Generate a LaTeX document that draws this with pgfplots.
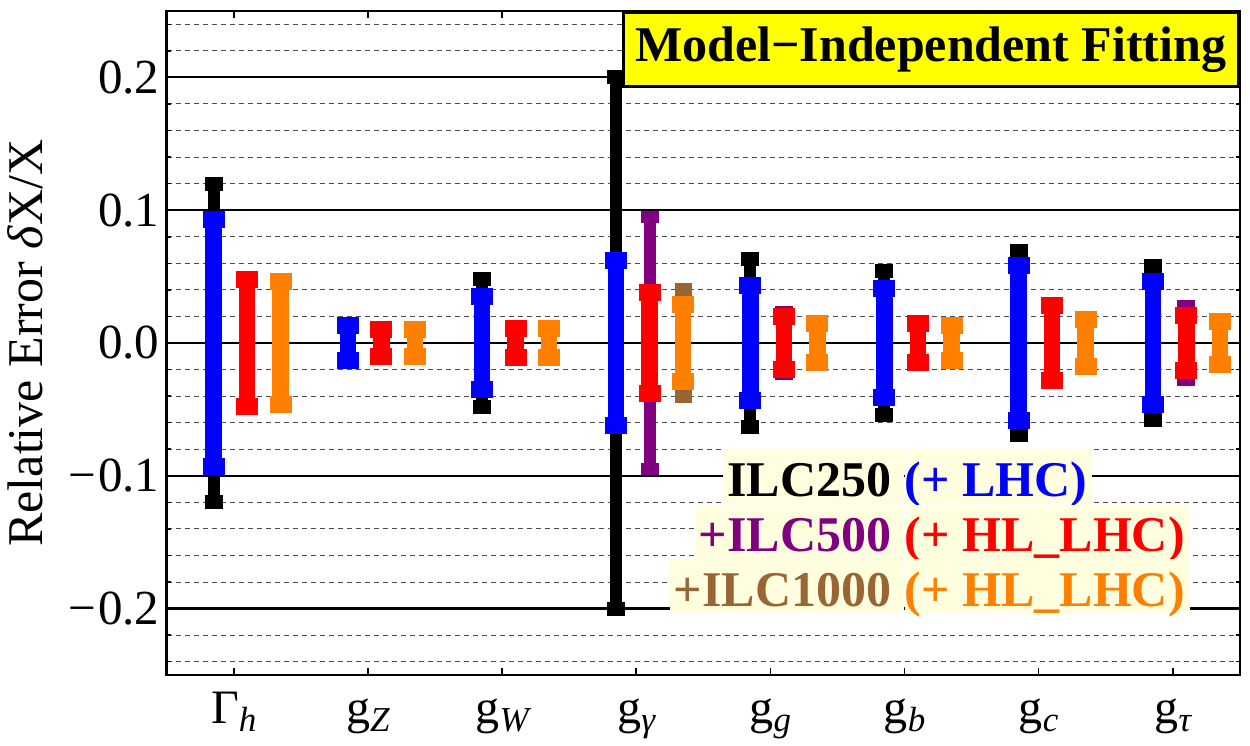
\documentclass[border=0pt]{standalone}
\usepackage{pgfplots}
\pgfplotsset{compat=1.18}
\usepackage{pgfplotstable}
\usepackage{fontspec}
\setmainfont{Liberation Serif}
\definecolor{mblue}{RGB}{0,0,255}
\definecolor{mred}{RGB}{255,0,0}
\definecolor{morange}{RGB}{255,128,0}
\definecolor{mpurple}{RGB}{128,0,128}
\definecolor{mbrown}{RGB}{153,102,51}
\definecolor{lyellow}{RGB}{255,255,224}
\definecolor{tyellow}{RGB}{255,255,0}
\newcommand{\sub}[1]{\raisebox{-8pt}{\fontsize{35}{35}\selectfont\itshape #1}}

\pgfplotstableread{
cat  xa    xb    xc    z  blk   blu   pur   red   brn   org
0   -0.15  0.10  0.35  0  0.120 0.093 0.048 0.048 0.046 0.046
1    0.85  1.10  1.35  0  0.013 0.013 0.010 0.010 0.010 0.010
2    1.85  2.10  2.35  0  0.048 0.035 0.011 0.011 0.011 0.011
3    2.85  3.10  3.35  0  0.200 0.062 0.095 0.038 0.040 0.029
4    3.85  4.10  4.35  0  0.063 0.043 0.023 0.020 0.015 0.015
5    4.85  5.10  5.35  0  0.054 0.041 0.015 0.015 0.013 0.013
6    5.85  6.10  6.35  0  0.069 0.058 0.028 0.028 0.018 0.018
7    6.85  7.10  7.35  0  0.058 0.046 0.028 0.021 0.016 0.016
}\errdata

\pgfplotsset{
  errbar/.style n args={4}{draw=none, mark=none, forget plot,
    error bars/.cd, y dir=both, y explicit,
    error bar style={draw=#1, line width=#2},
    error mark=|,
    error mark options={draw=#1, line width=#4, mark size=#3}},
}
\tikzset{
  lrow/.style={fill=lyellow, inner sep=0pt, text height=47pt, text depth=8pt,
    font=\fontsize{50}{55}\bfseries\selectfont},
}

\begin{document}
\begin{tikzpicture}
\begin{axis}[
  at={(0pt,0pt)}, anchor=south west,
  scale only axis, width=1073.3pt, height=664pt,
  xmin=-0.5, xmax=7.5, ymin=-0.25, ymax=0.25,
  xtick={0,1,2,3,4,5,6,7},
  xticklabels={{Γ\sub{h}},{g\sub{Z}},{g\sub{W}},{g\sub{γ}},{g\sub{g}},{g\sub{b}},{g\sub{c}},{g\sub{τ}}},
  ytick={-0.2,-0.1,0,0.1,0.2},
  yticklabels={−\kern2pt0.2,−\kern2pt0.1,0.0,0.1,0.2},
  minor ytick={-0.24,-0.22,-0.18,-0.16,-0.14,-0.12,-0.08,-0.06,-0.04,-0.02,0.02,0.04,0.06,0.08,0.12,0.14,0.16,0.18,0.22,0.24},
  ymajorgrids, yminorgrids,
  major grid style={black, line width=2.2pt},
  minor grid style={black!70, line width=1pt, dash pattern=on 5pt off 4pt},
  tick align=inside,
  major tick length=7pt, minor tick length=4pt,
  every tick/.style={black, line width=1.5pt},
  axis line style={line width=2.5pt},
  xticklabel style={font=\fontsize{48}{50}\selectfont, text height=32pt, text depth=10pt, inner sep=0pt, anchor=north, yshift=-16pt},
  yticklabel style={font=\fontsize{49}{50}\selectfont, inner sep=0pt, anchor=east, xshift=-7pt},
  ylabel={Relative Error \textit{δ}X/X},
  every axis y label/.style={at={(rel axis cs:-0.1153,0.5)}, rotate=90, anchor=base, font=\fontsize{50}{55}\selectfont},
]
\addplot[errbar={black}{12pt}{9pt}{14pt}] table[x=xa, y=z, y error=blk] {\errdata};
\addplot[errbar={mblue}{16.5pt}{11pt}{17pt}] table[x=xa, y=z, y error=blu] {\errdata};
\addplot[errbar={mpurple}{12pt}{9pt}{12pt}] table[x=xb, y=z, y error=pur] {\errdata};
\addplot[errbar={mred}{16.5pt}{11pt}{17pt}] table[x=xb, y=z, y error=red] {\errdata};
\addplot[errbar={mbrown}{12pt}{8.5pt}{13pt}] table[x=xc, y=z, y error=brn] {\errdata};
\addplot[errbar={morange}{16.5pt}{11pt}{17pt}] table[x=xc, y=z, y error=org] {\errdata};

\node[fill=tyellow, draw=black, line width=3pt, minimum width=615pt, minimum height=74pt, inner sep=0pt, font=\fontsize{50}{55}\bfseries\selectfont] at (axis cs:5.195,0.2208) {Model−Independent Fitting};

\node[lrow, anchor=base east, text=black] at (axis cs:5.0,-0.1155) {\kern4pt ILC250\kern13pt};
\node[lrow, anchor=base west, text=mblue] at (axis cs:5.0,-0.1155) {(+ LHC)\kern5pt};
\node[lrow, anchor=base east, text=mpurple] at (axis cs:5.0,-0.1572) {\kern4pt +ILC500\kern13pt};
\node[lrow, anchor=base west, text=mred] at (axis cs:5.0,-0.1572) {(+ HL\_LHC)\kern5pt};
\node[lrow, anchor=base east, text=mbrown] at (axis cs:5.0,-0.1983) {\kern4pt +ILC1000\kern13pt};
\node[lrow, anchor=base west, text=morange] at (axis cs:5.0,-0.1983) {(+ HL\_LHC)\kern5pt};
\end{axis}
\pgfresetboundingbox
\path[use as bounding box] (-166.7pt,-71pt) rectangle (1083.3pt,675pt);
\end{tikzpicture}
\end{document}
